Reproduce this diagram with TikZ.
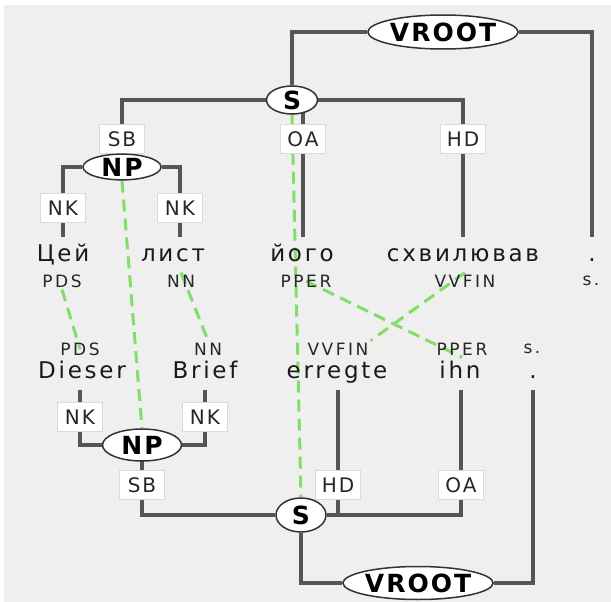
\documentclass[tikz,border=0pt]{standalone}
\usepackage{fontspec}
\usepackage{tikz}
\usetikzlibrary{shapes,backgrounds}
\newfontfamily\catfont{DejaVu Sans}[LetterSpace=8]
\newfontfamily\wordfont{DejaVu Sans}[LetterSpace=12]
\newfontfamily\tagfont{DejaVu Sans}[LetterSpace=15]
\newfontfamily\lblfont{DejaVu Sans}[LetterSpace=10]
\definecolor{bggray}{RGB}{239,239,239}
\definecolor{edgegray}{RGB}{85,85,85}
\definecolor{aligngreen}{RGB}{130,222,104}
\definecolor{boxgray}{RGB}{218,218,218}

\begin{document}
\begin{tikzpicture}[
    x=1pt, y=-1pt,
    cat/.style={ellipse, draw=black!80, fill=white, line width=1.5pt, inner sep=0pt, font=\catfont\bfseries\fontsize{25}{25}\selectfont},
    lbl/.style={rectangle, draw=boxgray, fill=white, line width=0.8pt, minimum width=45pt, minimum height=29pt, inner sep=0pt, text=black!85, font=\lblfont\fontsize{20}{20}\selectfont},
    word/.style={inner xsep=0pt, inner ysep=7pt, text height=17pt, text depth=4pt, text=black!90, font=\wordfont\fontsize{23}{23}\selectfont},
    tag/.style={inner sep=2pt, text=black!85, font=\tagfont\fontsize{17}{17}\selectfont},
    branch/.style={draw=edgegray, line width=3.2pt},
    link/.style={draw=aligngreen, line width=3pt, dash pattern=on 12pt off 7pt}
]
\useasboundingbox (0,0) rectangle (611,602);

% Upper tree
\node[cat, minimum width=148pt, minimum height=34pt] (vroot1) at (443,32) {VROOT};
\node[cat, minimum width=51pt, minimum height=28pt] (s1) at (292,100) {S};
\node[lbl] (sb1) at (122,139) {SB};
\node[lbl] (oa1) at (303,139) {OA};
\node[lbl] (hd1) at (463,139) {HD};
\node[cat, minimum width=78pt, minimum height=25pt] (np1) at (122,167) {NP};
\node[lbl] (nk1) at (63,208) {NK};
\node[lbl] (nk2) at (180,208) {NK};

% Upper sentence
\node[word] (cei) at (63,255) {Цей};
\node[word] (lyst) at (173,255) {лист};
\node[word] (yoho) at (302,255) {його};
\node[word] (skhv) at (463,255) {схвилював};
\node[word] (dot1) at (592,255) {.};
\node[tag] (pds1) at (62,281) {PDS};
\node[tag] (nn1) at (181,281) {NN};
\node[tag] (pper1) at (306,281) {PPER};
\node[tag] (vvfin1) at (465,281) {VVFIN};
\node[tag] (punct1) at (591,281) {s.};

% Lower sentence
\node[tag] (pds2) at (80,349) {PDS};
\node[tag] (nn2) at (208,349) {NN};
\node[tag] (vvfin2) at (338,349) {VVFIN};
\node[tag] (pper2) at (462,349) {PPER};
\node[tag] (punct2) at (532,349) {s.};
\node[word] (dieser) at (82,372) {Dieser};
\node[word] (brief) at (205,372) {Brief};
\node[word] (erregte) at (337,372) {erregte};
\node[word] (ihn) at (460,372) {ihn};
\node[word] (dot2) at (533,372) {.};

% Lower tree
\node[lbl] (nk3) at (80,417) {NK};
\node[lbl] (nk4) at (205,417) {NK};
\node[cat, minimum width=79pt, minimum height=32pt] (np2) at (142,445) {NP};
\node[lbl] (sb2) at (142,485) {SB};
\node[lbl] (hd2) at (338,485) {HD};
\node[lbl] (oa2) at (461,485) {OA};
\node[cat, minimum width=50pt, minimum height=34pt] (s2) at (301,515) {S};
\node[cat, minimum width=146pt, minimum height=33pt] (vroot2) at (418,583) {VROOT};

\begin{pgfonlayer}{background}
\fill[bggray] (4,5) rectangle (611,602);

% Upper edges
\draw[branch] (vroot1.west) -| (s1.north);
\draw[branch] (vroot1.east) -| (dot1.north);
\draw[branch] (s1.west) -| (sb1.center) -- (np1.center);
\draw[branch] (s1.east) -| (hd1.center) -- (hd1 |- skhv.north);
\draw[branch] (s1 -| oa1) -- (oa1 |- yoho.north);
\draw[branch] (np1.west) -| (nk1.center) -- (nk1 |- cei.north);
\draw[branch] (np1.east) -| (nk2.center) -- (nk2 |- lyst.north);

% Lower edges
\draw[branch] (nk3 |- dieser.south) -- (nk3.center) |- (np2.west);
\draw[branch] (nk4 |- brief.south) -- (nk4.center) |- (np2.east);
\draw[branch] (np2.center) -- (sb2.center) |- (s2.west);
\draw[branch] (hd2 |- erregte.south) -- (hd2 |- s2);
\draw[branch] (oa2 |- ihn.south) |- (s2.east);
\draw[branch] (s2.south) |- (vroot2.west);
\draw[branch] (vroot2.east) -| (dot2.south);

% Alignments
\draw[link] (s1.south) -- (s2.north);
\draw[link] (np1.south) -- (np2.north);
\draw[link] (pds1.south) -- (pds2.center);
\draw[link] (nn1.north) -- (nn2.north);
\draw[link] (pper1.center) -- (pper2.south);
\draw[link] (vvfin1.north) -- (vvfin2.north east);
\end{pgfonlayer}

\end{tikzpicture}
\end{document}
